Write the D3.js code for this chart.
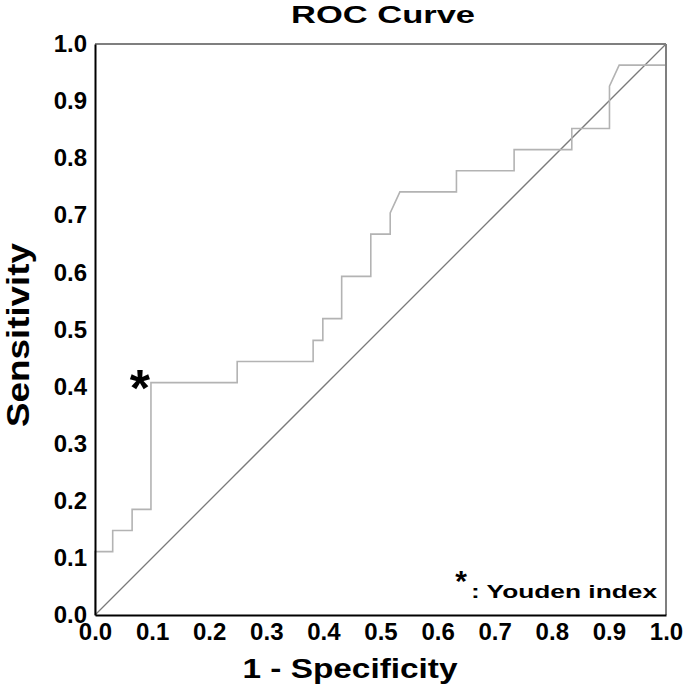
<!DOCTYPE html>
<html>
<head>
<meta charset="utf-8">
<script src="https://cdn.jsdelivr.net/npm/d3@7/dist/d3.min.js"></script>
<style>
  html, body { margin: 0; padding: 0; background: #fff; }
  svg { display: block; font-family: "Liberation Sans", Arial, sans-serif; }
</style>
</head>
<body>
<svg id="chart" width="685" height="696"></svg>
<script>
// ROC curve points (1 - specificity, sensitivity)
const fpr = [0, 0, 0.031, 0.031, 0.065, 0.065, 0.098, 0.098, 0.249, 0.249, 0.382, 0.382, 0.399, 0.399,
             0.432, 0.432, 0.483, 0.483, 0.517, 0.517, 0.534, 0.633, 0.633, 0.734, 0.734, 0.835, 0.835,
             0.901, 0.901, 0.918, 1, 1];
const tpr = [0, 0.111, 0.111, 0.148, 0.148, 0.185, 0.185, 0.407, 0.407, 0.444, 0.444, 0.481, 0.481, 0.519,
             0.519, 0.593, 0.593, 0.667, 0.667, 0.704, 0.741, 0.741, 0.778, 0.778, 0.815, 0.815, 0.852,
             0.852, 0.926, 0.963, 0.963, 1];
const youden = [0.098, 0.407];
const tickValues = [0, 0.1, 0.2, 0.3, 0.4, 0.5, 0.6, 0.7, 0.8, 0.9, 1.0];
const title = "ROC Curve";
const xLabel = "1 - Specificity";
const yLabel = "Sensitivity";
const legendText = ": Youden index";

const svg = d3.select("#chart");
const m = { left: 95, top: 44 };
const W = 571, H = 571;
const x = d3.scaleLinear().domain([0, 1]).range([m.left, m.left + W]);
const y = d3.scaleLinear().domain([0, 1]).range([m.top + H, m.top]);

// diagonal reference line
svg.append("line")
  .attr("x1", x(0)).attr("y1", y(0)).attr("x2", x(1)).attr("y2", y(1))
  .attr("stroke", "#7a7a7a").attr("stroke-width", 1.3);

// ROC curve
const pts = fpr.map((f, i) => [f, tpr[i]]);
svg.append("path")
  .attr("d", d3.line().x(d => x(d[0])).y(d => y(d[1]))(pts))
  .attr("fill", "none").attr("stroke", "#b3b3b3").attr("stroke-width", 1.6);

// frame: top and right gray
svg.append("line").attr("x1", x(0)).attr("x2", x(1)).attr("y1", y(1)).attr("y2", y(1))
  .attr("stroke", "#7f7f7f").attr("stroke-width", 2);
svg.append("line").attr("x1", x(1)).attr("x2", x(1)).attr("y1", y(1)).attr("y2", y(0))
  .attr("stroke", "#7f7f7f").attr("stroke-width", 2);

// axes
const fmt = d3.format(".1f");
const xAxis = svg.append("g").attr("transform", `translate(0,${y(0)})`)
  .call(d3.axisBottom(x).tickValues(tickValues).tickFormat(fmt).tickSize(0).tickPadding(8));
const yAxis = svg.append("g").attr("transform", `translate(${x(0)},0)`)
  .call(d3.axisLeft(y).tickValues(tickValues).tickFormat(fmt).tickSize(0).tickPadding(8));
[xAxis, yAxis].forEach(g => {
  g.select(".domain").attr("stroke", "#000").attr("stroke-width", 2);
  g.selectAll("text").attr("font-size", 24).attr("font-weight", "bold")
    .attr("fill", "#000").attr("font-family", "Liberation Sans, Arial, sans-serif");
});

// Youden marker
svg.append("text")
  .attr("x", x(youden[0]) - 11).attr("y", y(youden[1]) + 23)
  .attr("text-anchor", "middle").attr("font-size", 52).attr("font-weight", "bold")
  .text("*");

// Title
svg.append("text").attr("x", 383).attr("y", 23).attr("text-anchor", "middle")
  .attr("font-size", 24).attr("font-weight", "bold")
  .attr("textLength", 184).attr("lengthAdjust", "spacingAndGlyphs")
  .text(title);

// X label
svg.append("text").attr("x", 350).attr("y", 678).attr("text-anchor", "middle")
  .attr("font-size", 27).attr("font-weight", "bold")
  .attr("textLength", 215).attr("lengthAdjust", "spacingAndGlyphs")
  .text(xLabel);

// Y label
svg.append("text").attr("transform", "translate(29,335) rotate(-90)")
  .attr("text-anchor", "middle")
  .attr("font-size", 31).attr("font-weight", "bold")
  .attr("textLength", 184).attr("lengthAdjust", "spacingAndGlyphs")
  .text(yLabel);

// Legend
svg.append("text").attr("x", 461).attr("y", 591).attr("text-anchor", "middle")
  .attr("font-size", 30).attr("font-weight", "bold").text("*");
svg.append("text").attr("x", 471).attr("y", 598)
  .attr("font-size", 19).attr("font-weight", "bold")
  .attr("textLength", 186).attr("lengthAdjust", "spacingAndGlyphs").text(legendText);
</script>
</body>
</html>
